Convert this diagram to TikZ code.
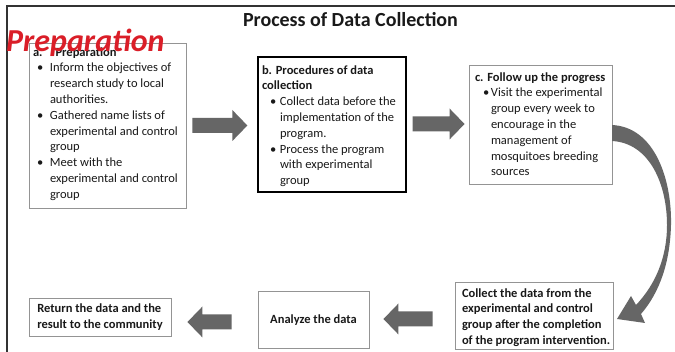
\documentclass[tikz,border=0pt]{standalone}
\usepackage{fontspec}
\setmainfont{Carlito}
\usetikzlibrary{calc}

\definecolor{boxline}{gray}{0.58}
\definecolor{arrowfill}{gray}{0.40}
\definecolor{inktext}{gray}{0.10}
\definecolor{framecol}{gray}{0.2}
\definecolor{heading}{RGB}{218,30,40}

% bullet list item with hanging indent
\newlength\bulin
\newlength\txtin
\newcommand\bitem[1]{\par\noindent\hangindent=\txtin\hangafter=1\makebox[\txtin][l]{\hspace*{\bulin}\textbullet}#1}
% fixed-size text panel: width, height, left pad, top pad, content
\newcommand\pane[5]{\parbox[c][#2][t]{#1}{\leftskip=#3\rightskip=0pt plus 1fil\parfillskip=0pt plus 1fil\relax\fontsize{12.5}{15.8}\selectfont\vspace*{#4}#5}}

% horizontal block arrow from #1 (tail) to #2 (tip)
\newcommand\flowarrow[2]{%
  \fill[arrowfill] let \p1=(#1), \p2=(#2), \n1={sign(\x2-\x1)} in
    (\x1,\y1+7.5pt) -- (\x2-\n1*15pt,\y1+7.5pt) -- (\x2-\n1*15pt,\y1+15.5pt)
    -- (\x2,\y1) -- (\x2-\n1*15pt,\y1-15.5pt) -- (\x2-\n1*15pt,\y1-7.5pt)
    -- (\x1,\y1-7.5pt) -- cycle;}

\tikzset{
  panel/.style={draw=boxline, line width=0.9pt, fill=white, inner sep=0pt, text=inktext},
  keypanel/.style={panel, draw=black, line width=1.3pt},
  framerule/.style={draw=framecol, line width=1.4pt}
}

\begin{document}
\begin{tikzpicture}[x=1pt,y=-1pt]
\useasboundingbox (0,0) rectangle (675,352);
\fill[white] (0,0) rectangle (675,352);
\draw[framerule] (7,352) -- (7,6) -- (675,6);

\node[anchor=base, inner sep=0pt, text=inktext, font=\fontsize{20}{24}\selectfont\bfseries] (title) at (350.5,27) {Process of Data Collection};

% stage a
\node[panel] (a) at (107.5,125.5) {\pane{157pt}{165pt}{4pt}{2pt}{%
  \noindent\textbf{\strut a.\hspace{13pt}Preparation}%
  \setlength\bulin{4pt}\setlength\txtin{17pt}%
  \bitem{Inform the objectives of\\research study to local\\authorities.}
  \bitem{Gathered name lists of\\experimental and control\\group}
  \bitem{Meet with the\\experimental and control\\group}}};

% stage b
\node[keypanel] (b) at (332,124.5) {\pane{148pt}{135pt}{4pt}{6pt}{%
  \noindent\textbf{\strut b. Procedures of data\\collection}%
  \setlength\bulin{8pt}\setlength\txtin{18pt}%
  \bitem{Collect data before the\\implementation of the\\program.}
  \bitem{Process the program\\with experimental\\group}}};

% stage c
\node[panel] (c) at (540.5,124.5) {\pane{143pt}{119pt}{6pt}{5pt}{%
  \noindent\textbf{\strut c. Follow up the progress}%
  \setlength\bulin{8pt}\setlength\txtin{16pt}%
  \bitem{Visit the experimental\\group every week to\\encourage in the\\management of\\mosquitoes breeding\\sources}}};

% bottom row
\node[panel] (collect) at (534,315.5) {\pane{158pt}{67pt}{7pt}{4pt}{%
  \noindent\textbf{\strut Collect the data from the\\experimental and control\\group after the completion\\of the program intervention.}}};

\node[panel, minimum width=111pt, minimum height=57pt, align=center,
      font=\fontsize{12.5}{15.8}\selectfont\bfseries] (analyze) at (313.5,320) {Analyze the data};

\node[panel, minimum width=142pt, minimum height=38pt, align=left,
      font=\fontsize{12.5}{15.2}\selectfont\bfseries] (return) at (100,317) {Return the data and the\\result to the community};

% overlaid heading
\node[anchor=base west, inner sep=0pt, text=heading,
      font=\fontsize{32}{36}\selectfont\bfseries\itshape] (stagehead) at (6,52) {Preparation};

% block arrows between stages
\flowarrow{[xshift=6pt]a.east}{[xshift=-10pt]b.west}
\flowarrow{[xshift=6pt,yshift=0.5pt]b.east}{[xshift=-4pt]c.west}
\flowarrow{[xshift=-22pt,yshift=-3.5pt]collect.west}{[xshift=14pt]analyze.east}
\flowarrow{[xshift=-26pt,yshift=-2pt]analyze.west}{[xshift=16pt]return.east}

% curved arrow from stage c down to the collection box
\fill[arrowfill] (612,125) .. controls (655,127) and (672,180) .. (671,225)
  .. controls (670,262) and (660,292) .. (641,314) -- (645,323) -- (617,319)
  -- (631,296) -- (636,305) .. controls (655,285) and (667,258) .. (667,225)
  .. controls (667,185) and (650,143) .. (612,141) -- cycle;
\end{tikzpicture}
\end{document}
